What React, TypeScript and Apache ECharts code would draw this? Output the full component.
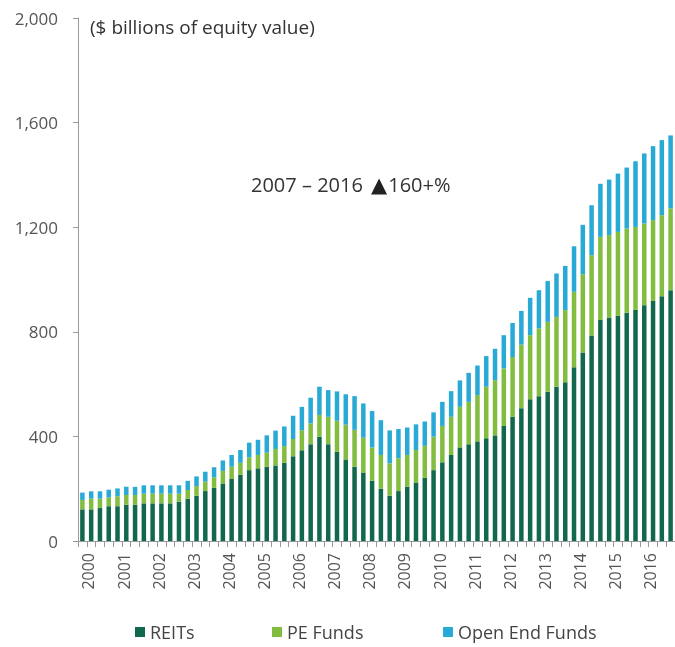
import React, { useEffect, useRef } from "react";
import * as echarts from "echarts";

const years = [2000, 2001, 2002, 2003, 2004, 2005, 2006, 2007, 2008, 2009, 2010, 2011, 2012, 2013, 2014, 2015, 2016];
const quarters = ["Q1", "Q2", "Q3", "Q4"];
const categories: string[] = [];
years.forEach((y) => quarters.forEach((q) => categories.push(y + " " + q)));

const reits = [
  121, 121, 126, 133, 133, 139, 139, 144, 144, 144, 144, 150, 162, 173, 191, 203, 220,
  237, 253, 271, 278, 284, 289, 299, 324, 347, 370, 399, 370, 341, 312, 284, 260, 230,
  200, 173, 191, 207, 224, 242, 271, 301, 329, 358, 370, 381, 393, 404, 440, 475, 508,
  542, 554, 571, 590, 607, 664, 721, 786, 845, 855, 861, 873, 884, 902, 918, 936, 959,
];
const peFunds = [
  36, 41, 36, 34, 38, 37, 37, 37, 37, 37, 37, 31, 33, 37, 36, 40, 48,
  47, 46, 49, 51, 54, 63, 64, 66, 77, 80, 83, 105, 119, 133, 141, 135, 128,
  129, 124, 125, 122, 124, 122, 128, 139, 146, 155, 162, 177, 197, 211, 220, 229, 243,
  245, 259, 267, 267, 276, 289, 299, 307, 318, 315, 321, 322, 317, 312, 309, 310, 313,
];
const openEndFunds = [
  28, 28, 28, 29, 30, 31, 31, 32, 32, 32, 32, 32, 35, 37, 38, 39, 40,
  45, 49, 56, 58, 66, 70, 75, 89, 89, 98, 108, 102, 112, 116, 129, 131, 139,
  133, 126, 112, 105, 98, 93, 93, 92, 98, 101, 111, 113, 117, 120, 127, 130, 129,
  143, 146, 156, 166, 169, 174, 189, 191, 203, 212, 223, 233, 251, 268, 283, 287, 279,
];

const seriesNames = ["REITs", "PE Funds", "Open End Funds"];
const colors = ["#12684e", "#82bd40", "#29a9d6"];
const yTicks = [0, 400, 800, 1200, 1600, 2000];

export default function App() {
  const ref = useRef<HTMLDivElement>(null);
  useEffect(() => {
    if (!ref.current) return;
    const chart = echarts.init(ref.current, undefined, { renderer: "svg" });
    const font = "'Open Sans', 'Noto Sans', sans-serif";
    const legendX = [135, 272, 443];
    chart.setOption({
      animation: false,
      textStyle: { fontFamily: font },
      grid: { left: 78, right: -2, top: 18, bottom: 106, containLabel: false },
      legend: seriesNames.map((n, i) => ({
        data: [n],
        left: legendX[i],
        top: 623,
        padding: 0,
        itemWidth: 10,
        itemHeight: 10,
        icon: "rect",
        itemGap: 0,
        textStyle: { fontSize: 18, color: "#444", fontFamily: font },
      })),
      xAxis: {
        type: "category",
        data: categories,
        boundaryGap: true,
        axisLine: { show: true, lineStyle: { color: "#999", width: 1 } },
        axisTick: { show: true, interval: 0, length: 6, lineStyle: { color: "#999" } },
        axisLabel: {
          interval: 3,
          rotate: 90,
          margin: 12,
          fontSize: 16,
          lineHeight: 12,
          verticalAlign: "top",
          color: "#555",
          fontFamily: font,
          formatter: (v: string) => v.split(" ")[0],
        },
        splitLine: { show: false },
      },
      yAxis: {
        type: "value",
        min: yTicks[0],
        max: yTicks[yTicks.length - 1],
        interval: 400,
        axisLine: { show: true, lineStyle: { color: "#999", width: 1 } },
        axisTick: { show: true, length: 5, lineStyle: { color: "#999" } },
        axisLabel: {
          margin: 20,
          fontSize: 17,
          color: "#555",
          fontFamily: font,
          formatter: (v: number) => v.toLocaleString("en-US"),
        },
        splitLine: { show: false },
      },
      series: [reits, peFunds, openEndFunds].map((d, i) => ({
        name: seriesNames[i],
        type: "bar",
        stack: "total",
        data: d,
        barWidth: 4.5,
        itemStyle: { color: colors[i] },
      })),
      graphic: [
        {
          type: "text",
          left: 90,
          top: 17,
          style: { text: "($ billions of equity value)", fontSize: 19, fill: "#333", fontFamily: font },
        },
        {
          type: "text",
          left: 251,
          top: 174,
          style: {
            text: "2007 – 2016 {t|▲}160+%",
            fontSize: 20,
            fill: "#333",
            fontFamily: font,
            rich: { t: { fontSize: 21, fill: "#222", fontFamily: "'DejaVu Sans', sans-serif", padding: [0, 1, 0, 3] } },
          },
        },
      ],
    });
    return () => chart.dispose();
  }, []);
  return <div ref={ref} style={{ position: "fixed", left: 0, top: 0, width: 675, height: 647 }} />;
}
